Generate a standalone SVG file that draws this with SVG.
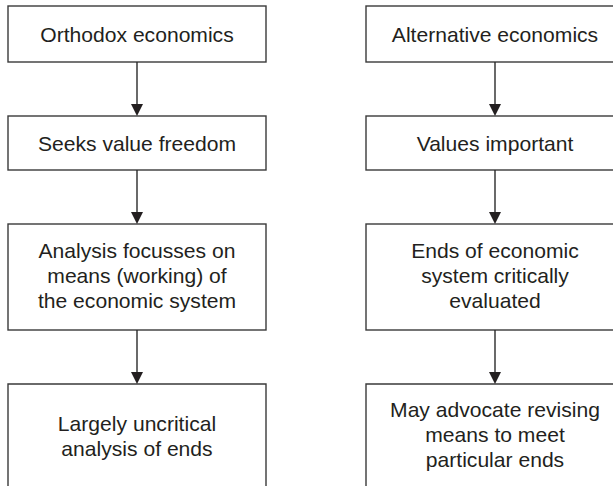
<svg xmlns="http://www.w3.org/2000/svg" width="613" height="486" viewBox="0 0 613 486">
<defs>
<style>
.box{fill:#fff;stroke:#3a3a3a;stroke-width:1.4}
.t{font-family:"Liberation Sans",Arial,sans-serif;font-size:21.1px;fill:#231f20;text-anchor:middle}
.c{stroke:#2a2a2a;stroke-width:1.4;fill:none}
.h{fill:#231f20}
</style>
</defs>
<rect width="613" height="486" fill="#fff"/>
<g id="n1"><rect class="box" x="8" y="6" width="258" height="56"/><text class="t" x="137" y="42">Orthodox economics</text></g>
<g id="n2"><rect class="box" x="8" y="116" width="258" height="54"/><text class="t" x="137" y="151">Seeks value freedom</text></g>
<g id="n3"><rect class="box" x="8" y="224" width="258" height="106"/><text class="t" x="137" y="257.5">Analysis focusses on</text><text class="t" x="137" y="282.5">means (working) of</text><text class="t" x="137" y="307.5">the economic system</text></g>
<g id="n4"><path class="box" d="M8,490 V384 H266 V490"/><text class="t" x="137" y="430.5">Largely uncritical</text><text class="t" x="137" y="455.5">analysis of ends</text></g>
<g id="n5"><rect class="box" x="366" y="6" width="258" height="56"/><text class="t" x="495" y="42">Alternative economics</text></g>
<g id="n6"><rect class="box" x="366" y="116" width="258" height="54"/><text class="t" x="495" y="151">Values important</text></g>
<g id="n7"><rect class="box" x="366" y="224" width="258" height="106"/><text class="t" x="495" y="257.5">Ends of economic</text><text class="t" x="495" y="282.5">system critically</text><text class="t" x="495" y="307.5">evaluated</text></g>
<g id="n8"><path class="box" d="M366,490 V384 H630"/><text class="t" x="495" y="417">May advocate revising</text><text class="t" x="495" y="442">means to meet</text><text class="t" x="495" y="467">particular ends</text></g>
<g id="connectors">
<line class="c" x1="137" y1="62" x2="137" y2="105"/><path class="h" d="M131,104 H143 L137,116 Z"/>
<line class="c" x1="137" y1="170" x2="137" y2="213"/><path class="h" d="M131,212 H143 L137,224 Z"/>
<line class="c" x1="137" y1="330" x2="137" y2="373"/><path class="h" d="M131,372 H143 L137,384 Z"/>
<line class="c" x1="495" y1="62" x2="495" y2="105"/><path class="h" d="M489,104 H501 L495,116 Z"/>
<line class="c" x1="495" y1="170" x2="495" y2="213"/><path class="h" d="M489,212 H501 L495,224 Z"/>
<line class="c" x1="495" y1="330" x2="495" y2="373"/><path class="h" d="M489,372 H501 L495,384 Z"/>
</g>
</svg>
